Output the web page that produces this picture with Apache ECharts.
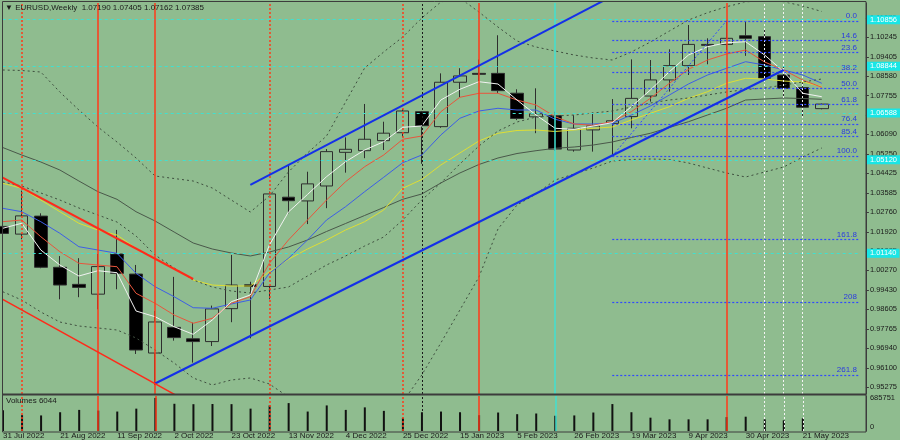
<!DOCTYPE html>
<html><head><meta charset="utf-8">
<script src="https://cdn.jsdelivr.net/npm/echarts@6/dist/echarts.min.js"></script>
<style>html,body{margin:0;padding:0;background:#8fbc8f}#c{width:900px;height:440px}</style>
</head><body><div id="c"></div><script>
// ---------- DATA ----------
const dates = ['31 Jul 2022','7 Aug 2022','14 Aug 2022','21 Aug 2022','28 Aug 2022','4 Sep 2022','11 Sep 2022','18 Sep 2022','25 Sep 2022','2 Oct 2022','9 Oct 2022','16 Oct 2022','23 Oct 2022','30 Oct 2022','6 Nov 2022','13 Nov 2022','20 Nov 2022','27 Nov 2022','4 Dec 2022','11 Dec 2022','18 Dec 2022','25 Dec 2022','1 Jan 2023','8 Jan 2023','15 Jan 2023','22 Jan 2023','29 Jan 2023','5 Feb 2023','12 Feb 2023','19 Feb 2023','26 Feb 2023','5 Mar 2023','12 Mar 2023','19 Mar 2023','26 Mar 2023','2 Apr 2023','9 Apr 2023','16 Apr 2023','23 Apr 2023','30 Apr 2023','7 May 2023','14 May 2023','21 May 2023','28 May 2023'];
const opens  = [1.0215,1.0182,1.0259,1.0040,0.9967,0.9925,1.0097,1.0011,0.9673,0.9783,0.9734,0.9722,0.9863,0.9965,0.9958,1.0340,1.0324,1.0388,1.0532,1.0539,1.0582,1.0616,1.0706,1.0642,1.0832,1.0870,1.0870,1.0785,1.0684,1.0689,1.0542,1.0628,1.0656,1.0685,1.0773,1.0842,1.0903,1.0994,1.0994,1.1031,1.1027,1.0863,1.0809,1.07190];
const highs  = [1.0290,1.0368,1.0271,1.0088,1.0079,1.0097,1.0200,1.0050,0.9853,0.9999,0.9803,0.9876,1.0093,0.9978,1.0364,1.0481,1.0449,1.0546,1.0596,1.0739,1.0663,1.0718,1.0709,1.0870,1.0892,1.0929,1.1033,1.0802,1.0806,1.0706,1.0691,1.0702,1.0760,1.0930,1.0927,1.0973,1.1077,1.1020,1.1095,1.1092,1.1056,1.0905,1.0842,1.07405];
const lows   = [1.0128,1.0160,1.0036,0.9903,0.9912,0.9860,0.9946,0.9669,0.9536,0.9726,0.9632,0.9703,0.9805,0.9736,0.9903,1.0271,1.0225,1.0293,1.0445,1.0507,1.0542,1.0599,1.0483,1.0637,1.0768,1.0835,1.0785,1.0670,1.0614,1.0539,1.0535,1.0535,1.0516,1.0635,1.0749,1.0792,1.0863,1.0909,1.0970,1.0945,1.0845,1.0763,1.0680,1.07162];
const closes = [1.0185,1.0260,1.0040,0.9964,0.9954,1.0043,1.0014,0.9686,0.9806,0.9739,0.9722,0.9862,0.9964,0.9958,1.0354,1.0325,1.0397,1.0535,1.0545,1.0588,1.0614,1.0709,1.0646,1.0832,1.0859,1.0866,1.0796,1.0677,1.0697,1.0546,1.0635,1.0645,1.0667,1.0763,1.0842,1.0903,1.0994,1.0990,1.1020,1.1020,1.0849,1.0806,1.0725,1.07385];
const volumes = [429600,328700,322700,389300,437700,423500,403400,463900,685751,564700,556000,559500,557200,463900,530400,578800,403400,530400,437700,490100,417500,276300,389300,403400,389300,328700,383200,348900,363000,316600,322700,383200,558700,389300,276300,242000,242000,242000,288400,296500,242000,221900,262200,6044];
const maWhite  = [1.02069,1.02283,1.0114,1.00498,1.00027,1.00254,1.00168,0.98529,0.98285,0.97857,0.97532,0.98144,0.98927,0.99214,1.01354,1.02766,1.03515,1.04277,1.04919,1.0542,1.05775,1.06392,1.06447,1.0756,1.08018,1.08343,1.08245,1.0756,1.06918,1.06349,1.06306,1.06447,1.06588,1.07273,1.07988,1.08771,1.09486,1.09841,1.10012,1.10055,1.09486,1.08771,1.07847,1.07701];
const maRed    = [1.02351,1.02424,1.01709,1.01067,1.00571,1.00498,1.00425,0.99287,0.98859,0.98358,0.98003,0.98217,0.98859,0.99141,1.00571,1.01568,1.02424,1.0328,1.04063,1.04705,1.05206,1.05878,1.06019,1.07059,1.07676,1.07847,1.07847,1.0756,1.07346,1.06845,1.06533,1.06477,1.06631,1.07059,1.07633,1.08275,1.08874,1.09272,1.09529,1.097,1.09186,1.08844,1.08416,1.08104];
const maBlue   = [1.02925,1.02779,1.02351,1.01855,1.01281,1.0114,1.00999,1.00143,0.99569,0.99141,0.9867,0.98645,0.98829,0.99,1.00143,1.00785,1.01568,1.02424,1.02993,1.03635,1.04252,1.04876,1.05206,1.06062,1.06777,1.07089,1.07205,1.07132,1.07132,1.06734,1.06533,1.06533,1.06563,1.06918,1.07303,1.07774,1.08245,1.0863,1.08917,1.09199,1.09058,1.08844,1.0863,1.08275];
const maYellow = [1.03995,1.03781,1.0328,1.02779,1.02283,1.01996,1.01782,1.01213,1.00785,1.00357,0.99856,0.99642,0.99599,0.99599,1.00211,1.00742,1.01183,1.01568,1.01996,1.02351,1.02852,1.03781,1.04157,1.04778,1.05292,1.05805,1.06135,1.06255,1.06276,1.06212,1.06276,1.06349,1.06404,1.06704,1.06991,1.07273,1.07633,1.07915,1.08275,1.08489,1.08459,1.08373,1.0833,1.08138];
const maSlow   = [1.05527,1.05206,1.04906,1.04564,1.04093,1.03635,1.0331,1.02779,1.02381,1.0191,1.0144,1.01183,1.01012,1.00883,1.01054,1.01268,1.01568,1.01932,1.02274,1.02617,1.02959,1.0331,1.03537,1.04008,1.04436,1.04799,1.05078,1.0527,1.0539,1.05493,1.05548,1.05634,1.05762,1.05955,1.06135,1.06383,1.06631,1.06918,1.07205,1.0756,1.07603,1.07646,1.07624,1.0759];
const bandUpper = [1.08844,1.08823,1.08758,1.07902,1.07132,1.06404,1.05762,1.05078,1.04307,1.042,1.04093,1.03794,1.0328,1.02766,1.03451,1.04478,1.05292,1.06019,1.07474,1.0893,1.09614,1.10256,1.1107,1.11754,1.11926,1.11326,1.10684,1.10085,1.09828,1.09657,1.09486,1.09358,1.09272,1.09614,1.10042,1.10513,1.10984,1.11296,1.11553,1.11754,1.11819,1.11767,1.11583,1.11348];
const bandLower = [0.99355,0.99,0.98486,0.98058,0.97887,0.97802,0.97716,0.97374,0.9686,0.96304,0.95662,0.95362,0.95576,0.95662,0.95405,0.94848,0.94292,0.94035,0.93907,0.93907,0.94121,0.94634,0.9579,0.9716,0.98572,0.99984,1.02039,1.03066,1.03537,1.04136,1.04393,1.0465,1.04949,1.05013,1.05035,1.05013,1.04864,1.0465,1.04436,1.04264,1.04478,1.04692,1.0512,1.05506];
const dottedMid = [1.0405,1.03879,1.0358,1.0328,1.02938,1.02638,1.02338,1.01739,1.00926,1.0037,0.99856,0.99556,0.99385,0.993,0.99428,0.99556,1.00027,1.00498,1.00883,1.01311,1.01696,1.02424,1.0328,1.04008,1.04821,1.05591,1.06233,1.06618,1.06832,1.06875,1.06918,1.07004,1.07089,1.0726,1.07432,1.0756,1.07646,1.07774,1.07902,1.08009,1.08074,1.08202,1.0833,1.08459];
const priceTicks = [1.11070,1.10245,1.09405,1.08580,1.07755,1.06915,1.06090,1.05250,1.04425,1.03585,1.02760,1.01920,1.01095,1.00270,0.99430,0.98605,0.97765,0.96940,0.96100,0.95275];
const volumeTicks = [0, 685751];
const fibNames  = ['0.0','14.6','23.6','38.2','50.0','61.8','76.4','85.4','100.0','161.8','208','261.8'];
const fibRatios = [0,14.6,23.6,38.2,50,61.8,76.4,85.4,100,161.8,208,261.8];
const fibHigh = 1.1095, fibLow = 1.0516, fibStartBar = 32, fibHighBar = 38;
const cyanLevels = [1.10856,1.08844,1.06588,1.05120,1.01140];
const lastPrice = 1.07385;
const channelUpper = [[13,1.03931],[32,1.12006]];
const channelLower = [[8,0.95427],[41,1.08844]];
const redUpper = [[0,1.04235],[10,0.99899]];
const redLower = [[0,0.99030],[10,0.94515]];
const vLines = [
  {bar:1,color:'#ff3a1a',type:[2,2],width:1.5},{bar:5,color:'#ff3a1a',type:'solid',width:1.5},{bar:8,color:'#ff3a1a',type:'solid',width:1.5},
  {bar:14,color:'#ff3a1a',type:[2,2],width:1.5},{bar:21,color:'#ff3a1a',type:[2,2],width:1.5},{bar:22,color:'#1a1a1a',type:[2,2],width:1},
  {bar:25,color:'#ff3a1a',type:'solid',width:1.5},{bar:29,color:'#40e0d0',type:'solid',width:1.5},{bar:38,color:'#ff3a1a',type:'solid',width:1.5},
  {bar:40,color:'#f4f4f4',type:[2,2],width:1},{bar:41,color:'#f4f4f4',type:[2,2],width:1},{bar:42,color:'#f4f4f4',type:[2,2],width:1}
];
const title = '\u25BC EURUSD,Weekly  1.07190 1.07405 1.07162 1.07385';
// ---------- CHART ----------
const cats = dates.concat(['','']);
const pMin = 0.949768, pMax = 1.117116;
const FONT = 'Liberation Sans';
const candleData = opens.map((o,i)=>[o, closes[i], lows[i], highs[i]]);
const makeVLines = () => vLines.map(v=>({xAxis: v.bar, lineStyle:{color:v.color,type:v.type,width:v.width,opacity:1}}));
const FIBC = '#3048ff';
const fibData = fibRatios.map((r,i)=>{const v = fibHigh - r/100*(fibHigh-fibLow); return [
  {coord:[fibStartBar, v], name: fibNames[i], lineStyle:{color:FIBC,type:[2,2],width:1.2}}, {coord:[cats.length-1, v]}];});
fibData.push([{coord:[fibStartBar,fibLow],lineStyle:{color:FIBC,type:[2,2],width:1},label:{show:false}},{coord:[fibHighBar,fibHigh]}]);
const hLineData = cyanLevels.map(v=>({yAxis:v, lineStyle:{color:'#40e0d0',type:[3,3],width:1},
  label:{show:true,position:'end',formatter:v.toFixed(5),backgroundColor:'#19e6e6',color:'#ffffff',fontSize:7.5,fontFamily:FONT,padding:[1,3,0,3],distance:7}}));
hLineData.push({yAxis:lastPrice, lineStyle:{opacity:0},
  label:{show:true,position:'end',formatter:lastPrice.toFixed(5),backgroundColor:'#000',color:'#fff',fontSize:7.5,fontFamily:FONT,padding:[1,3,0,3],distance:7}});
function maSeries(name,data,color,type){return {name,type:'line',xAxisIndex:0,yAxisIndex:0,data,showSymbol:false,symbol:'none',
  lineStyle:{color,width:1,type:type||'solid'},silent:true,z:4,animation:false};}
function trendSeries(data,color,width){return {type:'line',xAxisIndex:0,yAxisIndex:0,data,showSymbol:false,symbol:'none',
  lineStyle:{color,width},silent:true,z:5,clip:true,animation:false};}
const chart = echarts.init(document.getElementById('c'),null,{renderer:'canvas'});
chart.setOption({
  backgroundColor:'#8fbc8f', animation:false,
  grid:[{left:2.7,top:3,width:857.25,height:391},{left:2.7,top:396,width:857.25,height:36}],
  xAxis:[
    {type:'category',gridIndex:0,data:cats,boundaryGap:false,show:false},
    {type:'category',gridIndex:1,data:cats,boundaryGap:false,axisLine:{show:false},axisTick:{show:false},
     axisLabel:{interval:(i)=>i%3===0&&i<=42,align:'left',fontSize:8,fontFamily:FONT,color:'#1a1a1a',margin:1}}
  ],
  yAxis:[
    {type:'value',gridIndex:0,position:'right',offset:6,min:pMin,max:pMax,splitLine:{show:false},
     axisLine:{show:true,lineStyle:{color:'#3c3c3c'}},axisTick:{show:true,length:3,customValues:priceTicks,lineStyle:{color:'#3c3c3c'}},
     axisLabel:{customValues:priceTicks,formatter:v=>v.toFixed(5),fontSize:7.5,fontFamily:FONT,color:'#1a1a1a',margin:4}},
    {type:'value',gridIndex:1,position:'right',offset:6,min:0,max:726000,splitLine:{show:false},
     axisLine:{show:true,lineStyle:{color:'#3c3c3c'}},axisTick:{show:false},
     axisLabel:{customValues:volumeTicks,formatter:v=>v===0?'{z|0}':String(v),fontSize:7.5,fontFamily:FONT,color:'#1a1a1a',margin:4,
       rich:{z:{fontSize:7.5,fontFamily:FONT,color:'#1a1a1a',padding:[0,0,8,0]}}}}
  ],
  graphic:[
    {type:'rect',shape:{x:2.5,y:1.5,width:863.5,height:430.5},style:{fill:null,stroke:'#3c3c3c',lineWidth:1},silent:true,z:10},
    {type:'line',shape:{x1:2.5,y1:394.5,x2:866,y2:394.5},style:{stroke:'#3c3c3c',lineWidth:2},silent:true,z:10},
    {type:'text',left:5,top:4,style:{text:title,font:'8px '+FONT,fill:'#1a1a1a'},z:10},
    {type:'text',left:6,top:397,style:{text:'Volumes '+volumes[volumes.length-1],font:'8px '+FONT,fill:'#1a1a1a'},z:10}
  ],
  series:[
    {name:'EURUSD',type:'candlestick',xAxisIndex:0,yAxisIndex:0,data:candleData,barWidth:13,z:2,
     itemStyle:{color:'rgba(0,0,0,0)',color0:'#000000',borderColor:'#2e2e2e',borderColor0:'#2e2e2e',borderWidth:1},
     markLine:{silent:true,symbol:['none','none'],animation:false,label:{show:false},data:hLineData}},
    {type:'line',xAxisIndex:0,yAxisIndex:0,data:[],silent:true,z:3,
     markLine:{silent:true,symbol:['none','none'],animation:false,label:{show:false},data:makeVLines()}},
    {type:'line',xAxisIndex:0,yAxisIndex:0,data:[],silent:true,z:3,
     markLine:{silent:true,symbol:['none','none'],animation:false,
       label:{show:true,position:'insideEndTop',formatter:'{b}',color:'#2a3ae0',fontSize:8,fontFamily:FONT,distance:[3,1]},
       data:fibData}},
    maSeries('slow',maSlow,'#4a584a'),
    maSeries('yellow',maYellow,'#dede34'),
    maSeries('blue',maBlue,'#3d5ee6'),
    maSeries('red',maRed,'#e8553c'),
    maSeries('white',maWhite,'#f2f2f2'),
    maSeries('upper',bandUpper,'#3f4f3f',[2,3]),
    maSeries('lower',bandLower,'#3f4f3f',[2,3]),
    maSeries('mid',dottedMid,'#3f4f3f',[2,3]),
    trendSeries(channelUpper,'#1430e8',2),
    trendSeries(channelLower,'#1430e8',2),
    trendSeries(redUpper,'#ff2a1a',2),
    trendSeries(redLower,'#ff2a1a',1.5),
    {type:'line',xAxisIndex:1,yAxisIndex:1,data:[],silent:true,z:1,
     markLine:{silent:true,symbol:['none','none'],animation:false,label:{show:false},data:makeVLines()}},
    {name:'Volumes',type:'bar',xAxisIndex:1,yAxisIndex:1,data:volumes,barWidth:2,itemStyle:{color:'#111'},z:3}
  ]
});
</script></body></html>
